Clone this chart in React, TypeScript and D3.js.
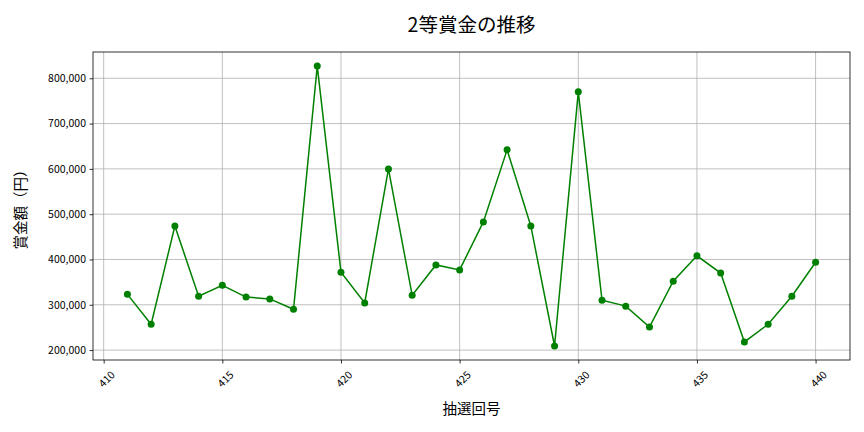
import { useEffect, useRef } from "react";
import * as d3 from "d3";

const draws = [411, 412, 413, 414, 415, 416, 417, 418, 419, 420, 421, 422, 423, 424, 425,
  426, 427, 428, 429, 430, 431, 432, 433, 434, 435, 436, 437, 438, 439, 440];
const prizes = [323000, 257000, 474000, 319000, 343000, 317000, 313000, 290000, 827000, 372000,
  304000, 600000, 321000, 388000, 377000, 483000, 642000, 474000, 209000, 770000,
  310000, 297000, 251000, 352000, 408000, 370000, 218000, 257000, 319000, 394000];
const xTicks = [410, 415, 420, 425, 430, 435, 440];
const yTicks = [200000, 300000, 400000, 500000, 600000, 700000, 800000];

const font = "'Noto Sans CJK JP', 'Noto Sans', sans-serif";

const App = () => {
  const svgRef = useRef<SVGSVGElement>(null);

  useEffect(() => {
    if (!svgRef.current) return;
    const svg = d3.select(svgRef.current);
    svg.selectAll("*").remove();

    const m = { top: 52, right: 14, bottom: 72, left: 93 };
    const w = 864, h = 432;
    const x = d3.scaleLinear().domain([409.55, 441.45]).range([m.left, w - m.right]);
    const y = d3.scaleLinear().domain([178100, 858000]).range([h - m.bottom, m.top]);

    // grid
    svg.append("g").selectAll("line").data(xTicks).join("line")
      .attr("x1", d => x(d)).attr("x2", d => x(d))
      .attr("y1", m.top).attr("y2", h - m.bottom)
      .attr("stroke", "#b0b0b0").attr("stroke-width", 0.8);
    svg.append("g").selectAll("line").data(yTicks).join("line")
      .attr("x1", m.left).attr("x2", w - m.right)
      .attr("y1", d => y(d)).attr("y2", d => y(d))
      .attr("stroke", "#b0b0b0").attr("stroke-width", 0.8);

    // axes
    const fmt = d3.format(",");
    const yAxis = svg.append("g").attr("transform", `translate(${m.left},0)`)
      .call(d3.axisLeft(y).tickValues(yTicks).tickFormat(d => fmt(d as number)).tickSize(3.5).tickPadding(3.5));
    yAxis.select(".domain").remove();
    yAxis.selectAll("text").attr("font-family", font).attr("font-size", 10.5).attr("fill", "#000");
    yAxis.selectAll("line").attr("stroke", "#000").attr("stroke-width", 0.8);

    const xAxis = svg.append("g").attr("transform", `translate(0,${h - m.bottom})`)
      .call(d3.axisBottom(x).tickValues(xTicks).tickFormat(d => String(d)).tickSize(3.5).tickPadding(3.5));
    xAxis.select(".domain").remove();
    xAxis.selectAll("line").attr("stroke", "#000").attr("stroke-width", 0.8);
    xAxis.selectAll("text")
      .attr("font-family", font).attr("font-size", 10.5).attr("fill", "#000")
      .attr("text-anchor", "end").attr("dy", "0.35em")
      .attr("transform", "translate(4,8) rotate(-45)");

    // frame
    svg.append("rect")
      .attr("x", m.left).attr("y", m.top)
      .attr("width", w - m.left - m.right).attr("height", h - m.top - m.bottom)
      .attr("fill", "none").attr("stroke", "#000").attr("stroke-width", 0.8);

    // line
    const pts = draws.map((d, i) => [d, prizes[i]] as [number, number]);
    svg.append("path")
      .datum(pts)
      .attr("d", d3.line<[number, number]>().x(d => x(d[0])).y(d => y(d[1])))
      .attr("fill", "none").attr("stroke", "green").attr("stroke-width", 1.5);
    svg.append("g").selectAll("circle").data(pts).join("circle")
      .attr("cx", d => x(d[0])).attr("cy", d => y(d[1])).attr("r", 3.5)
      .attr("fill", "green");

    // labels
    svg.append("text").attr("x", (m.left + w - m.right) / 2).attr("y", 32)
      .attr("text-anchor", "middle").attr("font-family", font).attr("font-size", 19.5)
      .text("2等賞金の推移");
    svg.append("text").attr("x", (m.left + w - m.right) / 2).attr("y", 414)
      .attr("text-anchor", "middle").attr("font-family", font).attr("font-size", 14.5)
      .text("抽選回号");
    svg.append("text")
      .attr("transform", `translate(26,${(m.top + h - m.bottom) / 2}) rotate(-90)`)
      .attr("text-anchor", "middle").attr("font-family", font).attr("font-size", 14.5)
      .text("賞金額（円）");
  }, []);

  return <svg ref={svgRef} width={864} height={432} style={{ position: "absolute", left: 0, top: 0 }} />;
};

export default App;
